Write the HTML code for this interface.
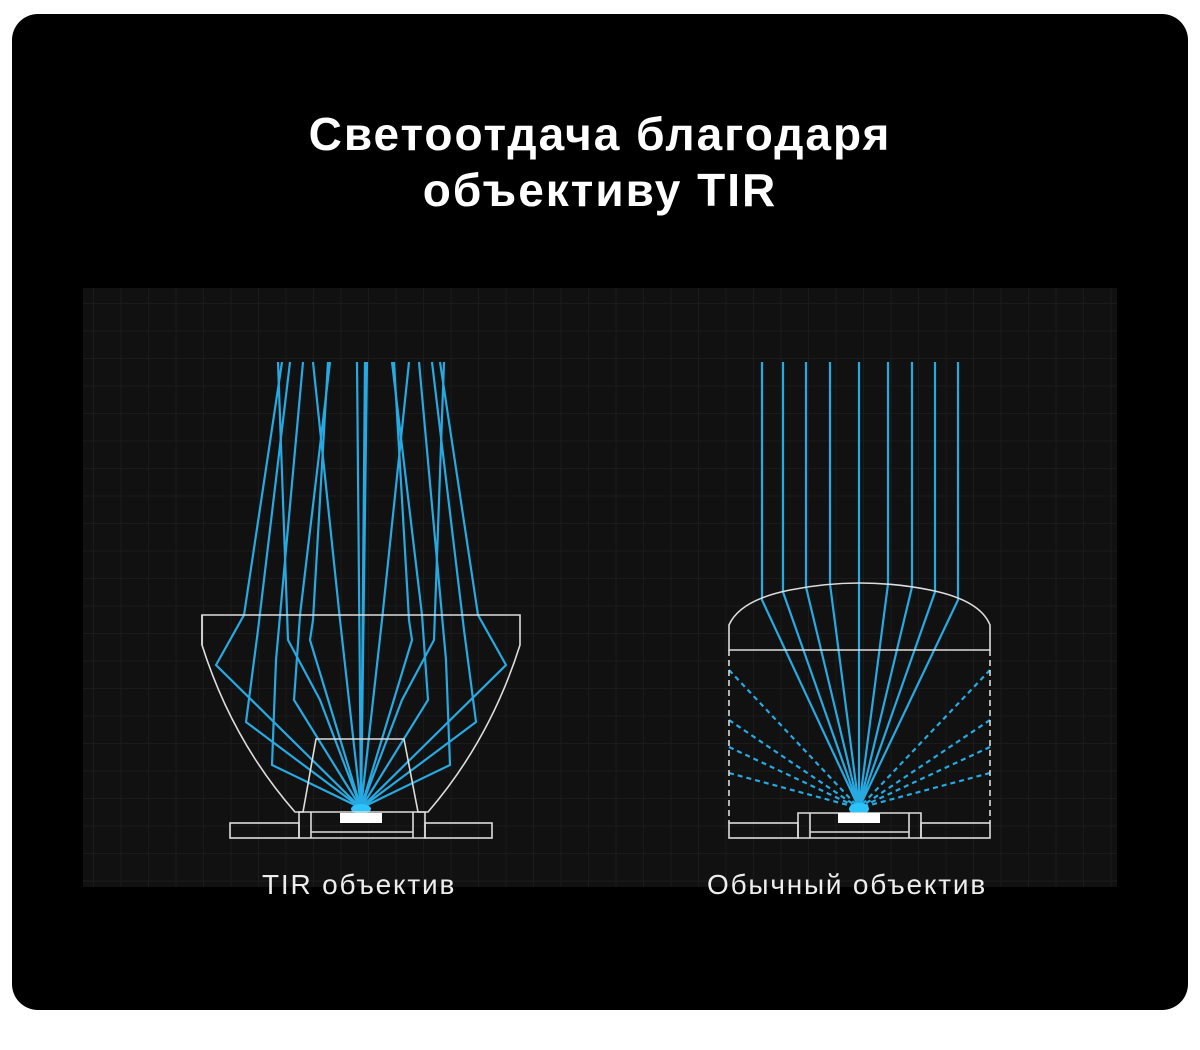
<!DOCTYPE html>
<html><head><meta charset="utf-8"><style>
html,body{margin:0;padding:0;background:#fff;width:1200px;height:1050px;overflow:hidden}
.card{position:absolute;left:12px;top:14px;width:1176px;height:996px;background:#000;border-radius:26px}
.t{position:absolute;left:0;width:1200px;text-align:center;color:#fff;font:bold 46px "Liberation Sans",sans-serif;letter-spacing:2px}
.l{position:absolute;color:#eee;font:28px "Liberation Sans",sans-serif;top:869px;letter-spacing:1.8px;white-space:nowrap}
</style></head><body>
<div class="card"></div>
<div class="t" style="top:107px">Светоотдача благодаря</div>
<div class="t" style="top:163px">объективу TIR</div>
<svg style="position:absolute;left:0;top:0" width="1200" height="1050">
<defs><pattern id="g" x="93" y="303" width="27.5" height="27.5" patternUnits="userSpaceOnUse">
<path d="M0 0H27.5M0 0V27.5" stroke="#1b1b1b" stroke-width="2" fill="none"/></pattern></defs>
<rect x="83" y="288" width="1034" height="599" fill="#111"/>
<rect x="83" y="288" width="1034" height="599" fill="url(#g)"/>
<g fill="none" stroke="#27a9e1" stroke-width="2.2">
<g id="half">
<polyline points="361,808 216,665 244,615 282,362"/>
<polyline points="361,808 246,722 258,630 290,362"/>
<polyline points="361,808 272,765 276,660 303,362"/>
<polyline points="361,808 294,700 300,615 330,362"/>
<polyline points="361,808 310,640 313,620 328,362"/>
<polyline points="361,808 320,700 288,640 278,362"/>
<polyline points="361,808 340,620 313,362"/>
<line x1="361" y1="808" x2="357" y2="362"/>
</g>
<use href="#half" transform="translate(722,0) scale(-1,1)"/>
<line x1="361" y1="808" x2="367" y2="362"/>
<polyline points="762,362 762,600 859,808"/>
<polyline points="783,362 783,592 859,808"/>
<polyline points="806,362 806,587 859,808"/>
<polyline points="830,362 830,584 859,808"/>
<polyline points="859,362 859,808"/>
<polyline points="888,362 888,584 859,808"/>
<polyline points="912,362 912,587 859,808"/>
<polyline points="935,362 935,592 859,808"/>
<polyline points="958,362 958,600 859,808"/>
<g stroke-dasharray="5,4">
<line x1="729" y1="670" x2="859" y2="808"/><line x1="729" y1="720" x2="859" y2="808"/>
<line x1="729" y1="747" x2="859" y2="808"/><line x1="729" y1="773" x2="859" y2="808"/>
<line x1="990" y1="670" x2="859" y2="808"/><line x1="990" y1="720" x2="859" y2="808"/>
<line x1="990" y1="747" x2="859" y2="808"/><line x1="990" y1="773" x2="859" y2="808"/>
</g>
</g>
<g fill="#2cc4ff"><ellipse cx="361" cy="809" rx="10" ry="5"/><ellipse cx="859" cy="809" rx="10" ry="6"/></g>
<g fill="none" stroke="#ddd" stroke-width="1.6">
<path d="M202,615H520V645Q490,740 428,812H418L404,739H316L303,812H295Q232,740 202,645Z"/>
<line x1="202" y1="645" x2="202" y2="615"/>
<rect x="230" y="823" width="69" height="15"/><rect x="425" y="823" width="67" height="15"/>
<path d="M299,838V812H425V838Z M311,812V838 M413,812V838 M311,832H413"/>
<path d="M729,650V625Q740,600 790,590Q860,576 930,590Q980,600 990,625V650Z"/>
<path d="M729,650V823M990,650V823" stroke-dasharray="6,4"/>
<rect x="729" y="823" width="69" height="15"/><rect x="921" y="823" width="69" height="15"/>
<path d="M798,838V813H921V838Z M810,813V838 M909,813V838 M810,832H909"/>
</g>
<rect x="340" y="813" width="42" height="10" fill="#fff"/>
<rect x="838" y="813" width="42" height="10" fill="#fff"/>
</svg>
<div class="l" style="left:262px">TIR объектив</div>
<div class="l" style="left:707px">Обычный объектив</div>
</body></html>
